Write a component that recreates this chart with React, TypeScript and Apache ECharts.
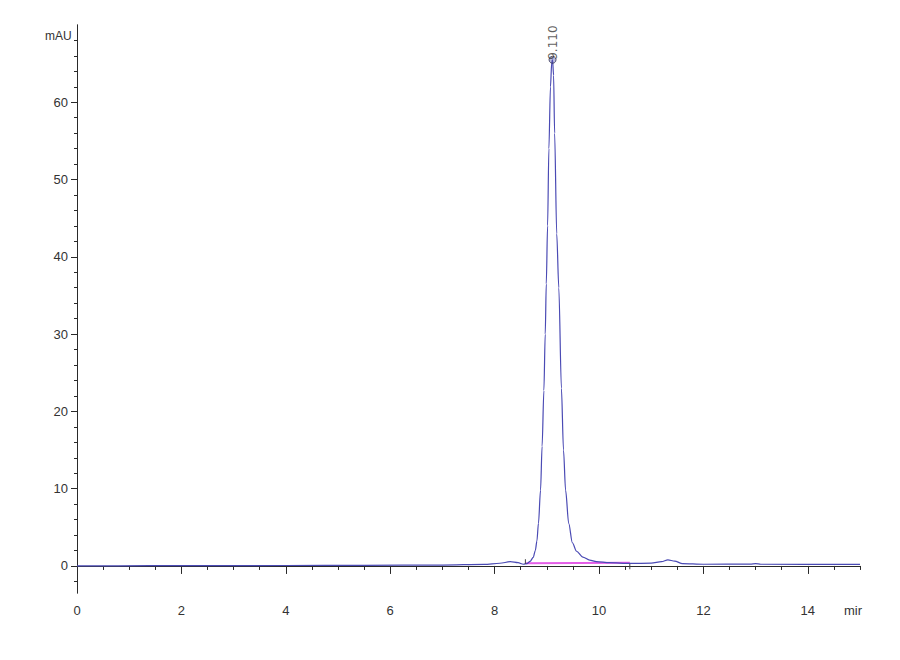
import { useEffect, useRef } from 'react';
import * as echarts from 'echarts';

// chromatogram trace (min, mAU)
const traceTimes = [
  0, 1.4, 2.5, 4.0, 5.5, 7.0, 7.8, 8.1, 8.3, 8.45, 8.55, 8.62, 8.68, 8.74, 8.78,
  8.81, 8.84, 8.88, 8.91, 8.944, 8.97, 8.99, 9.015, 9.04, 9.07, 9.095, 9.11,
  9.13, 9.15, 9.19, 9.23, 9.28, 9.32, 9.36, 9.42, 9.49, 9.57, 9.69, 9.82, 9.95,
  10.2, 10.6, 11.0, 11.2, 11.32, 11.45, 11.6, 12.0, 12.9, 13.0, 13.1, 15.0,
];
const traceValues = [
  0, 0.03, 0.04, 0.06, 0.08, 0.12, 0.2, 0.35, 0.55, 0.42, 0.22, 0.3, 0.6, 1.1,
  2.0, 3.2, 5.5, 9.8, 15.5, 22.7, 30, 36.5, 44, 54, 62, 65.2, 65.5, 63.5, 56,
  43, 36, 23, 15, 9.8, 5.5, 3.0, 1.9, 1.15, 0.75, 0.55, 0.42, 0.33, 0.36, 0.55,
  0.78, 0.62, 0.3, 0.22, 0.24, 0.3, 0.22, 0.2,
];

// integration baseline + start/end marks
const baselineTimes = [8.6, 10.59];
const baselineValues = [0.35, 0.42];
const startMarkTimes = [8.59, 8.59];
const startMarkValues = [0.26, 0.87];
const endMarkTimes = [10.59, 10.59];
const endMarkValues = [0.26, -0.43];

// peak annotation
const peakTimes = [9.11];
const peakHeights = [65.5];
const peakLabels = ['9.110'];

// axis ticks
const xLabelTicks = [0, 2, 4, 6, 8, 10, 12, 14];
const xMinorTicks = [
  0.5, 1, 1.5, 2.5, 3, 3.5, 4.5, 5, 5.5, 6.5, 7, 7.5, 8.5, 9, 9.5, 10.5, 11,
  11.5, 12.5, 13, 13.5, 14.5, 15,
];
const yLabelTicks = [0, 10, 20, 30, 40, 50, 60];
const yMinorTicks = [
  -2, 2, 4, 6, 8, 12, 14, 16, 18, 22, 24, 26, 28, 32, 34, 36, 38, 42, 44, 46,
  48, 52, 54, 56, 58, 62, 64, 66, 68,
];

const font = "'Liberation Sans', Arial, sans-serif";
const axisColor = '#2a2a2a';

const zip = (xs: number[], ys: number[]) => xs.map((x, i) => [x, ys[i]]);

export default function App() {
  const ref = useRef<HTMLDivElement>(null);

  useEffect(() => {
    if (!ref.current) return;
    document.body.style.margin = '0';
    const chart = echarts.init(ref.current, undefined, { renderer: 'svg' });

    const baseX = {
      type: 'value' as const,
      min: 0,
      max: 15,
      splitLine: { show: false },
      axisLine: { lineStyle: { color: axisColor, width: 1 } },
    };
    const baseY = {
      type: 'value' as const,
      min: -3.5,
      max: 70,
      splitLine: { show: false },
      axisLine: { lineStyle: { color: axisColor, width: 1 } },
    };

    chart.setOption({
      animation: false,
      backgroundColor: '#fff',
      grid: { left: 77, right: 40, top: 25, bottom: 67 },
      xAxis: [
        {
          ...baseX,
          axisTick: { customValues: xLabelTicks, length: 8, lineStyle: { color: axisColor } },
          axisLabel: {
            customValues: xLabelTicks,
            margin: 11,
            color: '#333',
            fontFamily: font,
            fontSize: 13,
          },
        },
        {
          ...baseX,
          position: 'bottom',
          axisTick: { customValues: xMinorTicks, length: 4, lineStyle: { color: axisColor } },
          axisLabel: { show: false },
        },
      ],
      yAxis: [
        {
          ...baseY,
          axisTick: { customValues: yLabelTicks, length: 6, lineStyle: { color: axisColor } },
          axisLabel: {
            customValues: yLabelTicks,
            margin: 9,
            color: '#333',
            fontFamily: font,
            fontSize: 13,
          },
        },
        {
          ...baseY,
          position: 'left',
          axisTick: { customValues: yMinorTicks, length: 3, lineStyle: { color: axisColor } },
          axisLabel: { show: false },
        },
      ],
      graphic: [
        {
          type: 'text',
          left: 45,
          top: 30,
          style: { text: 'mAU', fill: '#333', font: `12px ${font}` },
        },
        {
          type: 'text',
          left: 844,
          top: 604,
          style: { text: 'mir', fill: '#333', font: `13px ${font}` },
        },
      ],
      series: [
        {
          type: 'line',
          data: zip(baselineTimes, baselineValues),
          showSymbol: false,
          lineStyle: { color: '#e45ce8', width: 2 },
          z: 2,
        },
        {
          type: 'line',
          data: zip(traceTimes, traceValues),
          showSymbol: false,
          smooth: 0.3,
          smoothMonotone: 'x',
          lineStyle: { color: '#4a4ab4', width: 1.2 },
          z: 3,
        },
        {
          type: 'line',
          data: zip(startMarkTimes, startMarkValues),
          showSymbol: false,
          lineStyle: { color: '#444', width: 1 },
          z: 4,
        },
        {
          type: 'line',
          data: zip(endMarkTimes, endMarkValues),
          showSymbol: false,
          lineStyle: { color: '#444', width: 1 },
          z: 4,
        },
        {
          type: 'scatter',
          data: peakTimes.map((t, i) => ({ value: [t, peakHeights[i]], name: peakLabels[i] })),
          symbol: 'circle',
          symbolSize: 7,
          itemStyle: { color: 'rgba(80,80,170,0.5)', borderColor: '#333355', borderWidth: 1 },
          label: {
            show: true,
            position: 'inside',
            formatter: (p: any) => p.name,
            rotate: 90,
            align: 'left',
            verticalAlign: 'middle',
            color: '#333',
            fontFamily: 'DejaVu Sans',
            fontSize: 12,
          },
          z: 5,
        },
      ],
    });

    return () => chart.dispose();
  }, []);

  return (
    <div
      ref={ref}
      style={{ position: 'fixed', left: 0, top: 0, width: 900, height: 660, background: '#fff' }}
    />
  );
}
